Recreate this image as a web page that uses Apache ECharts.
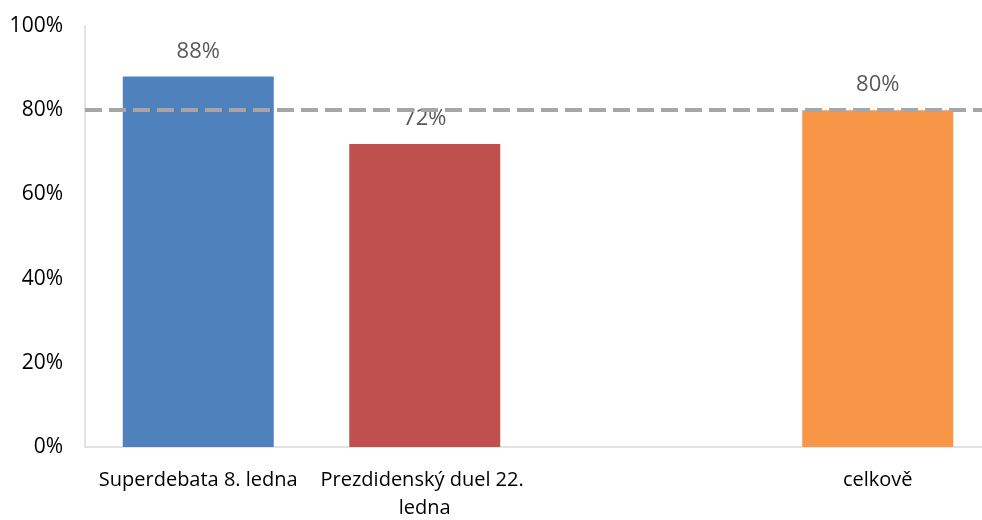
<!DOCTYPE html>
<html>
<head>
<meta charset="utf-8">
<script src="https://cdn.jsdelivr.net/npm/echarts@6/dist/echarts.min.js"></script>
<style>
  html, body { margin: 0; padding: 0; background: #fff; }
  #chart { width: 982px; height: 520px; }
</style>
</head>
<body>
<div id="chart"></div>
<script>
// kategorie a hodnoty
const categories = ['Superdebata 8. ledna', 'Prezdidenský duel 22. ledna', '', 'celkově']
const values = [0.88, 0.72, null, 0.80]
const barColors = ['#4f81bd', '#c0504d', '#f79646', '#f79646']
const refLine = 0.804 // prerušovaná čára
const yTicks = [0, 0.2, 0.4, 0.6, 0.8, 1.0]

const font = "'Open Sans', sans-serif"
const pct = v => Math.round(v * 100) + '%'

const chart = echarts.init(document.getElementById('chart'))

chart.setOption({
  animation: false,
  grid: {
    left: 85,
    top: 26,
    right: -9,
    bottom: 73,
    outerBoundsMode: 'none'
  },
  xAxis: {
    type: 'category',
    data: categories,
    axisLine: { lineStyle: { color: '#d9d9d9', width: 1.5 } },
    axisTick: { show: false },
    axisLabel: {
      interval: 0,
      color: '#000',
      fontFamily: font,
      fontSize: 20,
      lineHeight: 28,
      width: 224,
      overflow: 'break',
      margin: 19
    }
  },
  yAxis: {
    type: 'value',
    min: yTicks[0],
    max: yTicks[yTicks.length - 1],
    interval: 0.2,
    axisLine: { show: true, lineStyle: { color: '#d9d9d9', width: 1.5 } },
    axisTick: { show: false },
    splitLine: { show: false },
    axisLabel: {
      color: '#000',
      fontFamily: font,
      fontSize: 21,
      margin: 22,
      formatter: pct
    }
  },
  series: [
    {
      type: 'bar',
      barWidth: 151,
      data: values.map((v, i) => ({ value: v, itemStyle: { color: barColors[i] } })),
      label: {
        show: true,
        position: 'top',
        distance: 14,
        color: '#595959',
        fontFamily: font,
        fontSize: 22,
        formatter: p => pct(p.value)
      },
      markLine: {
        silent: true,
        symbol: 'none',
        label: { show: false },
        lineStyle: { color: '#a6a6a6', width: 4, type: [17, 7] },
        data: [{ yAxis: refLine }]
      }
    }
  ]
})
</script>
</body>
</html>
